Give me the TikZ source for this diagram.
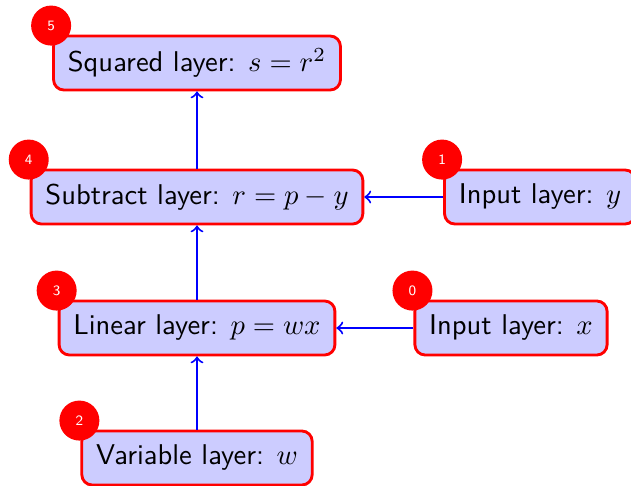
\documentclass[tikz,border=0pt]{standalone}
\begin{document}
\begin{tikzpicture}[x=0.35pt,y=-0.35pt,
  layer/.style={draw=red,line width=1pt,fill=blue!20,rounded corners=3.6pt,font=\sffamily,
    minimum height=54*0.35pt,inner xsep=5pt},
  badge/.style={circle,fill=red,text=white,font=\sffamily\tiny,minimum size=40*0.35pt,inner sep=0pt},
  flow/.style={->,blue,line width=0.7pt}]
\useasboundingbox (0,0) rectangle (631,485);
\node[layer] (n5) at (197,63) {Squared layer: $s=r^2$};
\node[layer] (n4) at (197,197) {Subtract layer: $r=p-y$};
\node[layer] (n1) at (540,197) {Input layer: $y$};
\node[layer] (n3) at (197,328) {Linear layer: $p=wx$};
\node[layer] (n0) at (511,328) {Input layer: $x$};
\node[layer] (n2) at (197,458) {Variable layer: $w$};
\foreach \n/\t in {n5/5,n4/4,n1/1,n3/3,n0/0,n2/2}{
  \node[badge] (b\t) at ([xshift=-1*0.35pt,yshift=9*0.35pt]\n.north west) {\t};
}
\draw[flow] (n2) -- (n3);
\draw[flow] (n3) -- (n4);
\draw[flow] (n4) -- (n5);
\draw[flow] (n0) -- (n3);
\draw[flow] (n1) -- (n4);
\end{tikzpicture}
\end{document}
